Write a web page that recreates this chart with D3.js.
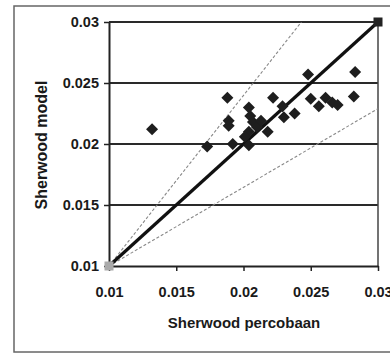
<!DOCTYPE html>
<html>
<head>
<meta charset="utf-8">
<script src="https://cdn.jsdelivr.net/npm/d3@7"></script>
<style>
  body { margin: 0; background: #fff; }
  text { font-family: "Liberation Sans", Arial, sans-serif; fill: #1a1a1a; }
</style>
</head>
<body>
<div id="chart"></div>
<script>
// measured points (Sherwood percobaan vs Sherwood model)
const xVals = [0.0132, 0.0173, 0.0188, 0.0189, 0.0189, 0.0192, 0.0204, 0.0204, 0.0205, 0.0207,
    0.0210, 0.0204, 0.0201, 0.0213, 0.0218, 0.0222, 0.0229, 0.0230, 0.0238, 0.0248,
    0.0250, 0.0256, 0.0261, 0.0266, 0.0270, 0.0283, 0.0282];
const yVals = [0.0212, 0.0198, 0.0238, 0.0219, 0.0215, 0.0200, 0.0230, 0.0199, 0.0223, 0.0218,
    0.0214, 0.0210, 0.0206, 0.0219, 0.0210, 0.0238, 0.0231, 0.0222, 0.0225, 0.0257,
    0.0237, 0.0231, 0.0238, 0.0234, 0.0232, 0.0259, 0.0239];

// reference lines
const idealLine = [[0.01, 0.01], [0.03, 0.03]];
const upperLine = [[0.01, 0.01], [0.0243, 0.03]];
const lowerLine = [[0.01, 0.01], [0.03, 0.0229]];

const xTicks = [0.01, 0.015, 0.02, 0.025, 0.03];
const yTicks = [0.01, 0.015, 0.02, 0.025, 0.03];
const xTitle = "Sherwood percobaan";
const yTitle = "Sherwood model";

const W = 390, H = 357;
const svg = d3.select("#chart").append("svg")
    .attr("width", W)
    .attr("height", H);

// outer frame of the scanned figure
svg.append("rect")
    .attr("x", 14).attr("y", 6)
    .attr("width", 390).attr("height", 346)
    .attr("fill", "none")
    .attr("stroke", "#666")
    .attr("stroke-width", 1.5);

const x = d3.scaleLinear().domain([0.01, 0.03]).range([109, 378]);
const y = d3.scaleLinear().domain([0.01, 0.03]).range([266, 22]);

// horizontal gridlines
svg.append("g")
    .selectAll("line")
    .data(yTicks.slice(1))
    .enter().append("line")
    .attr("x1", x(0.01)).attr("x2", x(0.03))
    .attr("y1", d => y(d)).attr("y2", d => y(d))
    .attr("stroke", "#2a2a2a")
    .attr("stroke-width", 2);

// right border of plot area
svg.append("line")
    .attr("x1", x(0.03)).attr("x2", x(0.03))
    .attr("y1", y(0.01)).attr("y2", y(0.03))
    .attr("stroke", "#444")
    .attr("stroke-width", 1.5);

const xAxis = svg.append("g")
    .attr("transform", `translate(0,${y(0.01)})`)
    .call(d3.axisBottom(x).tickValues(xTicks).tickSize(5).tickSizeOuter(0).tickFormat(d3.format("")));
const yAxis = svg.append("g")
    .attr("transform", `translate(${x(0.01)},0)`)
    .call(d3.axisLeft(y).tickValues(yTicks).tickSize(5).tickSizeOuter(0).tickFormat(d3.format("")));

[xAxis, yAxis].forEach(a => {
    a.select(".domain").attr("stroke", "#222").attr("stroke-width", 2);
    a.selectAll(".tick line").attr("stroke", "#222").attr("stroke-width", 1.5);
    a.selectAll(".tick text")
        .style("font-size", "14.5px")
        .style("font-weight", "bold")
        .attr("fill", "#1a1a1a");
});
xAxis.selectAll(".tick text").attr("dy", "1.6em");
yAxis.selectAll(".tick text").attr("x", -10);

const line = d3.line().x(d => x(d[0])).y(d => y(d[1]));

[upperLine, lowerLine].forEach(l => {
    svg.append("path")
        .attr("d", line(l))
        .attr("fill", "none")
        .attr("stroke", "#888")
        .attr("stroke-width", 1.1)
        .attr("stroke-dasharray", "3,2");
});

svg.append("path")
    .attr("d", line(idealLine))
    .attr("fill", "none")
    .attr("stroke", "#111")
    .attr("stroke-width", 3.2);

// square markers on the 1:1 line
svg.selectAll(".sq")
    .data(idealLine)
    .enter().append("rect")
    .attr("class", "sq")
    .attr("x", d => x(d[0]) - 4.5)
    .attr("y", d => y(d[1]) - 4.5)
    .attr("width", 9).attr("height", 9)
    .attr("fill", (d, i) => i == 0 ? "#aaa" : "#222");

// diamond points
const pts = xVals.map((v, i) => [v, yVals[i]]);
svg.selectAll(".pt")
    .data(pts)
    .enter().append("path")
    .attr("class", "pt")
    .attr("d", d3.symbol().type(d3.symbolSquare).size(72))
    .attr("transform", d => `translate(${x(d[0])},${y(d[1])}) rotate(45)`)
    .attr("fill", "#1e1e1e");

svg.append("text")
    .attr("x", 244).attr("y", 328)
    .attr("text-anchor", "middle")
    .style("font-size", "15px")
    .style("font-weight", "bold")
    .text(xTitle);

svg.append("text")
    .attr("transform", `translate(47,145) rotate(-90)`)
    .attr("text-anchor", "middle")
    .style("font-size", "16px")
    .style("font-weight", "bold")
    .text(yTitle);
</script>
</body>
</html>
